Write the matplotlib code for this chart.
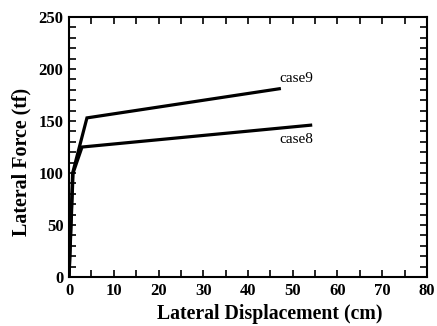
import numpy as np
import matplotlib.pyplot as plt
from matplotlib.ticker import MultipleLocator

# case8 / case9 force-displacement curves
case9_x = [0, 0.8, 4.0, 47.0]
case9_y = [0, 100, 153, 181]
case8_x = [0, 0.9, 2.9, 54.0]
case8_y = [0, 100, 125, 146]

plt.rcParams['font.family'] = ['Liberation Serif', 'DejaVu Serif']

fig = plt.figure(figsize=(4.37, 3.26), dpi=100)
ax = fig.add_axes([0.158, 0.150, 0.819, 0.798])

ax.plot(case9_x, case9_y, color='black', lw=2.3, solid_joinstyle='miter')
ax.plot(case8_x, case8_y, color='black', lw=2.3, solid_joinstyle='miter')

ax.text(47, 191, 'case9', fontsize=11, va='center', ha='left')
ax.text(47, 132, 'case8', fontsize=11, va='center', ha='left')

ax.set_xlim(0, 80)
ax.set_ylim(0, 250)
ax.xaxis.set_major_locator(MultipleLocator(10))
ax.xaxis.set_minor_locator(MultipleLocator(5))
ax.yaxis.set_major_locator(MultipleLocator(50))
ax.yaxis.set_minor_locator(MultipleLocator(10))
ax.tick_params(which='both', direction='in', top=True, right=True, width=1.2)
ax.tick_params(which='major', length=5, labelsize=12, pad=4)
ax.tick_params(which='minor', length=5)
for lab in ax.get_xticklabels() + ax.get_yticklabels():
    lab.set_fontweight('bold')
for sp in ax.spines.values():
    sp.set_linewidth(1.5)

ax.set_xlabel('Lateral Displacement (cm)', fontsize=14.2, fontweight='bold')
ax.set_ylabel('Lateral Force (tf)', fontsize=14.4, fontweight='bold')
ax.xaxis.set_label_coords(0.561, -0.104)
ax.yaxis.set_label_coords(-0.105, 0.442)
ax.xaxis.label.set_va('top')
ax.yaxis.label.set_va('bottom')

fig.savefig('out.png', dpi=100)
